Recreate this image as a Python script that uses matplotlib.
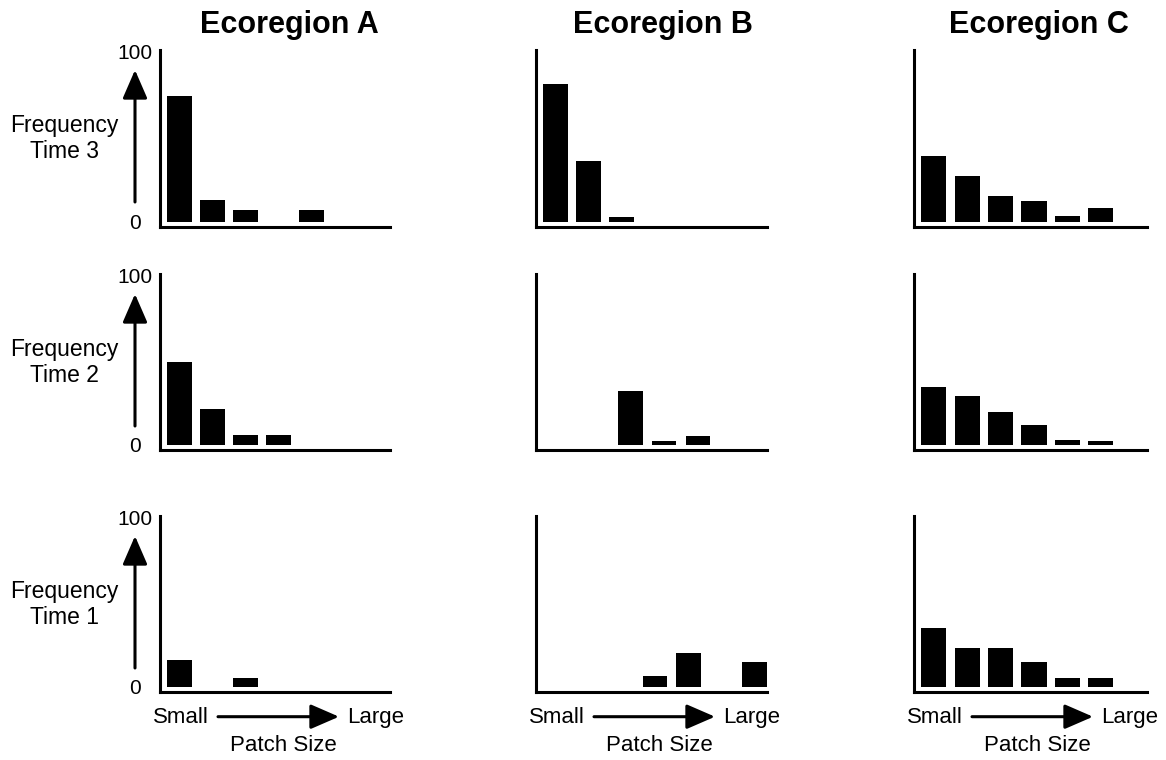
import matplotlib
matplotlib.use('Agg')
import matplotlib.pyplot as plt
from matplotlib.patches import ArrowStyle

plt.rcParams['font.family'] = ['Liberation Sans', 'DejaVu Sans']

# ---------------- data ----------------
regions = ['Ecoregion A', 'Ecoregion B', 'Ecoregion C']
times = ['Time 3', 'Time 2', 'Time 1']
y_title = 'Frequency'
x_title = 'Patch Size'
x_end_labels = ['Small', 'Large']
y_tick_values = [0, 100]
y_tick_labels = ['0', '100']

# patch-size class positions and frequencies
a_t3_pos = [0, 1, 2, 4]
a_t3_val = [74, 13, 7, 7]
a_t2_pos = [0, 1, 2, 3]
a_t2_val = [49, 21, 6, 6]
a_t1_pos = [0, 2]
a_t1_val = [16, 5]

b_t3_pos = [0, 1, 2]
b_t3_val = [81, 36, 3]
b_t2_pos = [2.27, 3.27, 4.3]
b_t2_val = [32, 2.5, 5]
b_t1_pos = [3, 4, 6]
b_t1_val = [6.5, 20, 14.5]

c_t3_pos = [0, 1, 2, 3, 4, 5]
c_t3_val = [39, 27, 15, 12, 3.5, 8]
c_t2_pos = [0, 1, 2, 3, 4, 5]
c_t2_val = [34, 29, 19.5, 12, 3, 2.5]
c_t1_pos = [0, 1, 2, 3, 4, 5]
c_t1_val = [35, 23, 23, 15, 5, 5]

panels = [
    [(a_t3_pos, a_t3_val), (b_t3_pos, b_t3_val), (c_t3_pos, c_t3_val)],
    [(a_t2_pos, a_t2_val), (b_t2_pos, b_t2_val), (c_t2_pos, c_t2_val)],
    [(a_t1_pos, a_t1_val), (b_t1_pos, b_t1_val), (c_t1_pos, c_t1_val)],
]

# ---------------- layout ----------------
W, H = 1166, 760
fig = plt.figure(figsize=(W / 100, H / 100), dpi=100)

col_px = [(160, 230), (536, 231), (914, 233)]   # left, width
row_px = [(50, 227), (274, 450), (516, 692)]    # top, bottom
title_x = [289, 663, 1039]

arrow_style = ArrowStyle('-|>', head_length=17.5, head_width=7.6)

for r, (top, bot) in enumerate(row_px):
    for c, (left, width) in enumerate(col_px):
        ax = fig.add_axes([left / W, 1 - bot / H, width / W, (bot - top) / H])
        pos, val = panels[r][c]
        ax.bar(pos, val, width=0.75, color='black', linewidth=0)
        ax.set_xlim(-0.59, 6.38)
        ax.set_ylim(-3, 101)
        for s in ['top', 'right']:
            ax.spines[s].set_visible(False)
        for s in ['left', 'bottom']:
            ax.spines[s].set_linewidth(2.2)
            ax.spines[s].set_capstyle('projecting')
        ax.set_xticks([])
        if c == 0:
            ax.set_yticks(y_tick_values, y_tick_labels)
            ax.tick_params(axis='y', length=0, pad=18, labelsize=15)
            for lbl in ax.get_yticklabels():
                lbl.set_horizontalalignment('center')
        else:
            ax.set_yticks([])
        ax.patch.set_alpha(0)

    # row labels and vertical arrow
    fig.text(64 / W, 1 - (top + 81.7) / H, y_title, ha='center', va='baseline', fontsize=16.5)
    fig.text(64 / W, 1 - (top + 108) / H, times[r], ha='center', va='baseline', fontsize=16.5)
    fig.patches  # noqa
    ann = fig.text(0, 0, '')
    plt.annotate('', xy=(135, H - (top + 20)), xytext=(135, H - (top + 152)),
                 xycoords='figure pixels', textcoords='figure pixels',
                 arrowprops=dict(arrowstyle=arrow_style, lw=2.2, color='black',
                                 shrinkA=0, shrinkB=0, mutation_scale=1))

# column titles and bottom x labels
for c, (left, width) in enumerate(col_px):
    fig.text(title_x[c] / W, 1 - 33 / H, regions[c], ha='center', va='baseline',
             fontsize=22, fontweight='bold')
    fig.text((left - 7) / W, 1 - 722.7 / H, x_end_labels[0], ha='left', va='baseline', fontsize=16)
    fig.text((left + 187) / W, 1 - 722.7 / H, x_end_labels[1], ha='left', va='baseline', fontsize=16)
    fig.text((left + 123) / W, 1 - 751 / H, x_title, ha='center', va='baseline', fontsize=16)
    plt.annotate('', xy=(left + 179, H - 716.7), xytext=(left + 58, H - 716.7),
                 xycoords='figure pixels', textcoords='figure pixels',
                 arrowprops=dict(arrowstyle=arrow_style, lw=2.2, color='black',
                                 shrinkA=0, shrinkB=0, mutation_scale=1))

fig.savefig('out.png', dpi=100)
